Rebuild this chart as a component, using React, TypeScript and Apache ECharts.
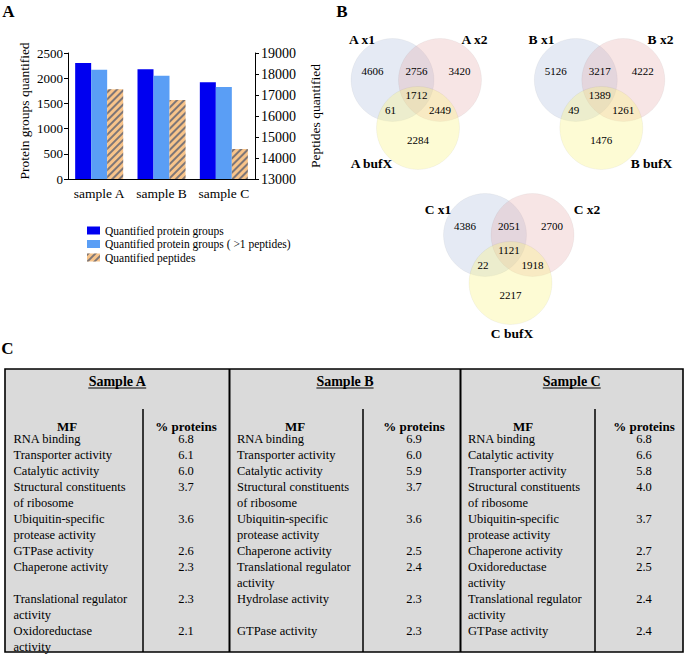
import React, { useEffect, useRef } from 'react';
import * as echarts from 'echarts';

// ---------- DATA ----------
const categories = ['sample A', 'sample B', 'sample C'];
const seriesNames = [
  'Quantified protein groups',
  'Quantified protein groups ( >1 peptides)',
  'Quantified peptides',
];
const proteinGroups = [2300, 2180, 1920];
const proteinGroupsMulti = [2170, 2050, 1825];
const peptides = [17270, 16760, 14430];

// Venn: [x1 only, x2 only, bufX only, x1∩x2, x1∩bufX, x2∩bufX, all three]
const vennNamesA = ['A x1', 'A x2', 'A bufX'];
const vennNamesB = ['B x1', 'B x2', 'B bufX'];
const vennNamesC = ['C x1', 'C x2', 'C bufX'];
const vennA = [4606, 3420, 2284, 2756, 61, 2449, 1712];
const vennB = [5126, 4222, 1476, 3217, 49, 1261, 1389];
const vennC = [4386, 2700, 2217, 2051, 22, 1918, 1121];

// Table (molecular function, % proteins)
const tableTitles = ['Sample A', 'Sample B', 'Sample C'];
const tableHeaders = ['MF', '% proteins'];
const mfA = ['RNA binding', 'Transporter activity', 'Catalytic activity', 'Structural constituents\nof ribosome', 'Ubiquitin-specific\nprotease activity', 'GTPase activity', 'Chaperone activity', 'Translational regulator\nactivity', 'Oxidoreductase\nactivity'];
const pctA = [6.8, 6.1, 6.0, 3.7, 3.6, 2.6, 2.3, 2.3, 2.1];
const mfB = ['RNA binding', 'Transporter activity', 'Catalytic activity', 'Structural constituents\nof ribosome', 'Ubiquitin-specific\nprotease activity', 'Chaperone activity', 'Translational regulator\nactivity', 'Hydrolase activity', 'GTPase activity'];
const pctB = [6.9, 6.0, 5.9, 3.7, 3.6, 2.5, 2.4, 2.3, 2.3];
const mfC = ['RNA binding', 'Catalytic activity', 'Transporter activity', 'Structural constituents\nof ribosome', 'Ubiquitin-specific\nprotease activity', 'Chaperone activity', 'Oxidoreductase\nactivity', 'Translational regulator\nactivity', 'GTPase activity'];
const pctC = [6.8, 6.6, 5.8, 4.0, 3.7, 2.7, 2.5, 2.4, 2.4];

// ---------- LAYOUT / STYLE ----------
const FONT = 'Liberation Serif, Times New Roman, serif';
const BLACK = '#000';

function measure(text: string, font: string) {
  const ctx = document.createElement('canvas').getContext('2d');
  if (!ctx) return text.length * 7;
  ctx.font = font;
  return ctx.measureText(text).width;
}

function txt(text: string, x: number, y: number, font: string, align = 'center', vAlign = 'middle') {
  return {
    type: 'text',
    x,
    y,
    silent: true,
    style: {
      text,
      font,
      fill: BLACK,
      textAlign: align,
      textVerticalAlign: vAlign,
      align,
      verticalAlign: vAlign,
    },
  };
}

function line(x1: number, y1: number, x2: number, y2: number, w: number) {
  return { type: 'line', silent: true, shape: { x1, y1, x2, y2 }, style: { stroke: BLACK, lineWidth: w } };
}

const VENN_R = 41.5;
const CIRCLE_OFF = [[0, 0], [47.5, 0], [25.5, 48]];
const CIRCLE_FILL = ['rgba(160,180,215,0.28)', 'rgba(225,160,160,0.28)', 'rgba(250,242,130,0.34)'];
const REGION_OFF = [[-20, -9], [67, -9], [25.5, 60], [24, -9], [-2, 29.5], [47.5, 29.5], [24, 15]];

function venn(names: string[], counts: number[], cx: number, cy: number, labelPos: number[][]) {
  const els: any[] = [];
  CIRCLE_OFF.forEach((o, i) => {
    els.push({
      type: 'circle',
      silent: true,
      shape: { cx: cx + o[0], cy: cy + o[1], r: VENN_R },
      style: { fill: CIRCLE_FILL[i], stroke: 'rgba(0,0,0,0.04)', lineWidth: 1 },
    });
  });
  counts.forEach((c, i) => {
    els.push(txt(String(c), cx + REGION_OFF[i][0], cy + REGION_OFF[i][1], `11px ${FONT}`));
  });
  names.forEach((n, i) => {
    els.push(txt(n, labelPos[i][0], labelPos[i][1], `bold 13.5px ${FONT}`));
  });
  return els;
}

// table geometry
const T_TOP = 369;
const T_BOTTOM = 652;
const COL_BOUNDS = [5, 229.5, 460.5, 683];
const COL_TEXT_X = [13.5, 237, 468];
const COL_DIV_X = [143, 363, 595];
const COL_VAL_X = [186, 414, 644];
const COL_MF_X = [67, 295, 523];
const TITLE_Y = 381.5;
const HEADER_Y = 426;
const FIRST_LINE_Y = 439;
const LINE_H = 16;

function table() {
  const els: any[] = [];
  els.push({
    type: 'rect',
    silent: true,
    shape: { x: COL_BOUNDS[0], y: T_TOP, width: COL_BOUNDS[3] - COL_BOUNDS[0], height: T_BOTTOM - T_TOP },
    style: { fill: '#dadada', stroke: BLACK, lineWidth: 1.6 },
  });
  els.push(line(COL_BOUNDS[1], T_TOP, COL_BOUNDS[1], T_BOTTOM, 2));
  els.push(line(COL_BOUNDS[2], T_TOP, COL_BOUNDS[2], T_BOTTOM, 2));

  const mfs = [mfA, mfB, mfC];
  const pcts = [pctA, pctB, pctC];
  // shared row heights = max number of lines among the three samples
  const nRows = mfA.length;
  const rowStart: number[] = [];
  let acc = 0;
  for (let r = 0; r < nRows; r++) {
    rowStart.push(acc);
    acc += Math.max(...mfs.map((m) => m[r].split('\n').length));
  }
  const titleFont = `bold 14px ${FONT}`;
  const bodyFont = `12.5px ${FONT}`;
  for (let c = 0; c < 3; c++) {
    const titleCx = (COL_BOUNDS[c] + COL_BOUNDS[c + 1]) / 2;
    els.push(txt(tableTitles[c], titleCx, TITLE_Y, titleFont));
    const w = measure(tableTitles[c], titleFont);
    els.push(line(titleCx - w / 2, TITLE_Y + 6.5, titleCx + w / 2, TITLE_Y + 6.5, 1));
    els.push(line(COL_DIV_X[c], 409, COL_DIV_X[c], T_BOTTOM, 1.5));
    els.push(txt(tableHeaders[0], COL_MF_X[c], HEADER_Y, `bold 13px ${FONT}`));
    els.push(txt(tableHeaders[1], COL_VAL_X[c], HEADER_Y, `bold 13px ${FONT}`));
    for (let r = 0; r < nRows; r++) {
      const y0 = FIRST_LINE_Y + rowStart[r] * LINE_H;
      mfs[c][r].split('\n').forEach((ln, k) => {
        els.push(txt(ln, COL_TEXT_X[c], y0 + k * LINE_H, bodyFont, 'left', 'middle'));
      });
      els.push(txt(pcts[c][r].toFixed(1), COL_VAL_X[c], y0, bodyFont, 'center', 'middle'));
    }
  }
  return els;
}

export default function App() {
  const ref = useRef<HTMLDivElement>(null);

  useEffect(() => {
    if (!ref.current) return;
    const chart = echarts.init(ref.current, undefined, { renderer: 'svg' });

    const plain = (v: number) => String(v);
    const axisLabelL = { color: BLACK, fontSize: 13, fontFamily: FONT, margin: 5, formatter: plain };
    const axisLabelR = { color: BLACK, fontSize: 14, fontFamily: FONT, margin: 6, formatter: plain };
    const nameStyle = { color: BLACK, fontSize: 13.5, fontFamily: FONT };

    const graphics: any[] = [
      txt('A', 8.5, 11, `bold 17px ${FONT}`),
      txt('B', 342, 11, `bold 17px ${FONT}`),
      txt('C', 7.5, 348, `bold 17px ${FONT}`),
      ...venn(vennNamesA, vennA, 392.5, 80, [[362, 39.5], [474.5, 39.5], [371.5, 163.5]]),
      ...venn(vennNamesB, vennB, 575.8, 80, [[541.5, 39.5], [660.5, 39.5], [651.5, 163.5]]),
      ...venn(vennNamesC, vennC, 485, 235, [[438, 209], [587, 209], [512, 333]]),
      ...table(),
    ];

    const option: any = {
      animation: false,
      backgroundColor: '#fff',
      textStyle: { fontFamily: FONT },
      grid: { left: 68, top: 53, width: 187, height: 126 },
      legend: {
        data: seriesNames,
        orient: 'vertical',
        left: 82,
        top: 219.5,
        itemWidth: 13,
        itemHeight: 8,
        itemGap: 1.5,
        itemTextGap: 8,
        icon: 'rect',
        selectedMode: false,
        textStyle: { color: BLACK, fontFamily: FONT, fontSize: 11.5, lineHeight: 12 },
      },
      xAxis: {
        type: 'category',
        data: categories,
        axisLine: { lineStyle: { color: BLACK, width: 1 } },
        axisTick: { show: false },
        axisLabel: { color: BLACK, fontSize: 13.5, fontFamily: FONT, margin: 7, interval: 0 },
      },
      yAxis: [
        {
          type: 'value',
          min: 0,
          max: 2500,
          interval: 500,
          position: 'left',
          name: 'Protein groups quantified',
          nameLocation: 'middle',
          nameGap: 37,
          nameTextStyle: { ...nameStyle, padding: [0, 0, 0, 10] },
          axisLine: { show: true, lineStyle: { color: BLACK, width: 1 } },
          axisTick: { show: true, length: 4, lineStyle: { color: BLACK } },
          splitLine: { show: false },
          axisLabel: axisLabelL,
        },
        {
          type: 'value',
          min: 13000,
          max: 19000,
          interval: 1000,
          position: 'right',
          name: 'Peptides quantified',
          nameLocation: 'middle',
          nameGap: 53,
          nameTextStyle: nameStyle,
          axisLine: { show: true, lineStyle: { color: BLACK, width: 1 } },
          axisTick: { show: true, length: 4, lineStyle: { color: BLACK } },
          splitLine: { show: false },
          axisLabel: axisLabelR,
        },
      ],
      series: [
        {
          name: seriesNames[0],
          type: 'bar',
          yAxisIndex: 0,
          data: proteinGroups,
          barWidth: 16,
          barGap: '0%',
          itemStyle: { color: '#0000f0' },
        },
        {
          name: seriesNames[1],
          type: 'bar',
          yAxisIndex: 0,
          data: proteinGroupsMulti,
          barWidth: 16,
          barGap: '0%',
          itemStyle: { color: '#5a9ef5' },
        },
        {
          name: seriesNames[2],
          type: 'bar',
          yAxisIndex: 1,
          data: peptides,
          barWidth: 16,
          barGap: '0%',
          itemStyle: {
            color: '#f8c48a',
            decal: {
              symbol: 'rect',
              symbolSize: 1,
              dashArrayX: [1, 0],
              dashArrayY: [2, 2.5],
              rotation: -Math.PI / 4,
              color: 'rgba(105,105,115,0.85)',
            },
          },
        },
      ],
      graphic: { elements: graphics },
    };

    chart.setOption(option);
    return () => chart.dispose();
  }, []);

  return (
    <div
      ref={ref}
      style={{ position: 'absolute', left: 0, top: 0, width: 685, height: 654 }}
    />
  );
}
